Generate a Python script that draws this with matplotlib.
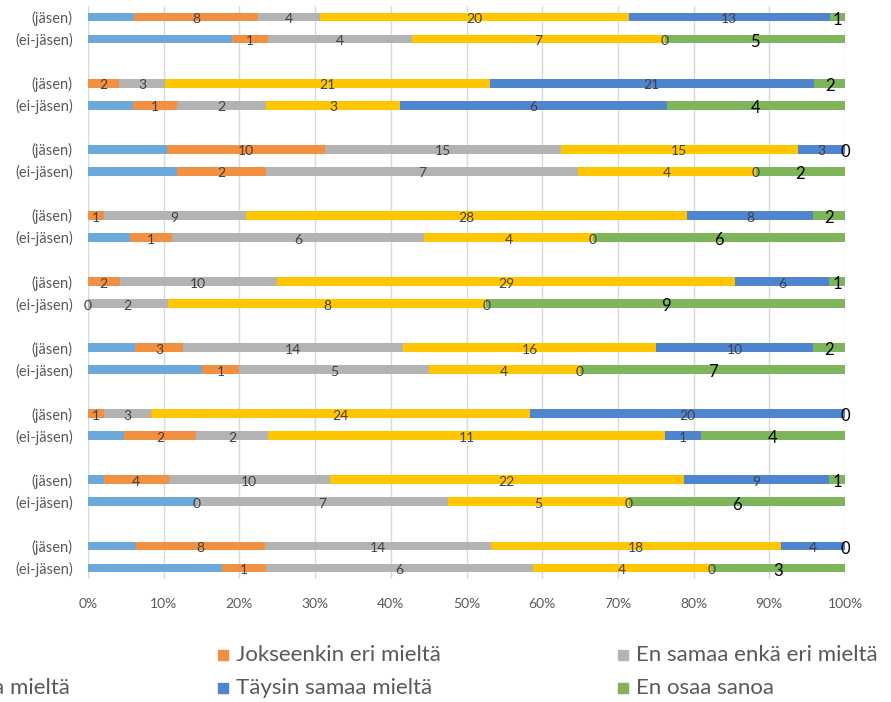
import matplotlib
matplotlib.use("Agg")
import matplotlib.pyplot as plt
import numpy as np
from matplotlib.patches import Rectangle

plt.rcParams['font.family'] = ['Lato', 'DejaVu Sans']

# Category labels (top to bottom), nine question pairs
row_labels = ["(jäsen)", "(ei-jäsen)"] * 9

series_names = ["Täysin eri mieltä", "Jokseenkin eri mieltä", "En samaa enkä eri mieltä",
                "Jokseenkin samaa mieltä", "Täysin samaa mieltä", "En osaa sanoa"]
colors = ["#6CA9DA", "#F19040", "#B3B3B3", "#FFC600", "#4F84CE", "#7EB45A"]

# Answer counts per row
taysin_eri       = [3, 4, 0, 1, 5, 2, 0, 1, 0, 0, 3, 3, 0, 1, 1, 3, 3, 3]
jokseenkin_eri   = [8, 1, 2, 1, 10, 2, 1, 1, 2, 0, 3, 1, 1, 2, 4, 0, 8, 1]
en_samaa_enka    = [4, 4, 3, 2, 15, 7, 9, 6, 10, 2, 14, 5, 3, 2, 10, 7, 14, 6]
jokseenkin_samaa = [20, 7, 21, 3, 15, 4, 28, 4, 29, 8, 16, 4, 24, 11, 22, 5, 18, 4]
taysin_samaa     = [13, 0, 21, 6, 3, 0, 8, 0, 6, 0, 10, 0, 20, 1, 9, 0, 4, 0]
en_osaa          = [1, 5, 2, 4, 0, 2, 2, 6, 1, 9, 2, 7, 0, 4, 1, 6, 0, 3]

counts = np.array([taysin_eri, jokseenkin_eri, en_samaa_enka,
                   jokseenkin_samaa, taysin_samaa, en_osaa], dtype=float)
totals = counts.sum(axis=0)
shares = counts / totals * 100

W, H = 891, 702
fig = plt.figure(figsize=(W / 100, H / 100), dpi=100)
ax = fig.add_axes([88 / W, 1 - 579 / H, (845 - 88) / W, (579 - 6) / H])

# one empty slot between each jäsen / ei-jäsen pair
ypos = np.array([3 * g + k for g in range(9) for k in (0, 1)], dtype=float)

left = np.zeros(len(ypos))
for i, (name, col) in enumerate(zip(series_names, colors)):
    ax.barh(ypos, shares[i], left=left, height=0.4, color=col, label=name, zorder=2)
    if i > 0:
        for y, l, w, c in zip(ypos, left, shares[i], counts[i]):
            if i == 5:
                ax.text(l + w / 2, y + 0.12, f"{int(c)}", ha="center", va="center",
                        fontsize=12, color="black", zorder=3)
            else:
                ax.text(l + w / 2, y + 0.1, f"{int(c)}", ha="center", va="center",
                        fontsize=10, color="#404040", zorder=3)
    left = left + shares[i]

ax.set_xlim(0, 100)
ax.set_ylim(25.5, -0.5)
ax.set_xticks(np.arange(0, 101, 10))
ax.set_xticklabels([f"{v}%" for v in range(0, 101, 10)])
ax.set_yticks(ypos)
ax.set_yticklabels(row_labels)
ax.tick_params(axis="both", length=0, colors="#595959")
ax.tick_params(axis="x", pad=14, labelsize=10)
ax.tick_params(axis="y", pad=11, labelsize=10.5)
ax.grid(axis="x", color="#D9D9D9", linewidth=1, zorder=0)
ax.set_axisbelow(True)
for s in ax.spines.values():
    s.set_visible(False)


# legend, laid out in rows of three equal-width columns
def px(x, y):
    return x / W, 1 - y / H


def legend_entry(idx, x_text, y, align="left"):
    fx, fy = px(x_text, y)
    t = fig.text(fx, fy, series_names[idx], ha=align, va="center", fontsize=16,
                 color="#595959")
    if align == "left":
        mx = x_text - 18
        rx, ry = px(mx, y + 5)
        fig.patches.append(Rectangle((rx, ry), 10 / W, 10 / H, transform=fig.transFigure,
                                     color=colors[idx], figure=fig))
    return t


legend_entry(0, -4, 655, align="right")
legend_entry(1, 236, 655)
legend_entry(2, 636, 655)
legend_entry(3, -171, 688)
legend_entry(4, 236, 688)
legend_entry(5, 636, 688)

fig.savefig("out.png", dpi=100)
